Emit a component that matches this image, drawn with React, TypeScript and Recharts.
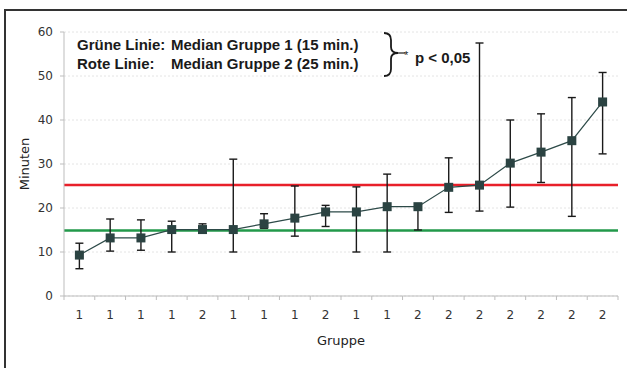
import { LineChart, Line, XAxis, YAxis, CartesianGrid, ErrorBar, ReferenceLine } from 'recharts';

const groups = ['1', '1', '1', '1', '2', '1', '1', '1', '2', '1', '1', '2', '2', '2', '2', '2', '2', '2'];
const medians = [9.3, 13.2, 13.2, 15.1, 15.1, 15.1, 16.4, 17.7, 19.1, 19.1, 20.3, 20.3, 24.7, 25.2, 30.2, 32.7, 35.3, 44.1];
const lows = [6.2, 10.2, 10.4, 10, 14.3, 10, 15.4, 13.6, 15.8, 10, 10, 15, 19.0, 19.3, 20.2, 25.8, 18.1, 32.3];
const highs = [12, 17.5, 17.3, 17, 16.4, 31.1, 18.7, 25, 20.6, 24.8, 27.7, 20.3, 31.4, 57.5, 40, 41.4, 45.1, 50.8];
const yTicks = [0, 10, 20, 30, 40, 50, 60];
const medianGroup1 = 14.9;
const medianGroup2 = 25.2;

const W = 627;
const H = 368;
const margin = { top: 32, right: 9, bottom: 16, left: 0 };
const yAxisWidth = 64;
const plotWidth = W - margin.left - margin.right - yAxisWidth;
const band = plotWidth / groups.length;

const data = groups.map((g, i) => ({
  gruppe: g,
  median: medians[i],
  err: [medians[i] - lows[i], highs[i] - medians[i]],
}));

const tickFont = { fontFamily: 'DejaVu Sans', fontSize: 12, fill: '#333' };

function GroupTick(props: any) {
  const { x, y, payload, index } = props;
  const last = index === groups.length - 1;
  return (
    <g>
      <line x1={x - band / 2} x2={x - band / 2} y1={y - 14} y2={y - 10} stroke="#bdbdbd" />
      {last && <line x1={x + band / 2} x2={x + band / 2} y1={y - 14} y2={y - 10} stroke="#bdbdbd" />}
      <text x={x} y={y} dy="0.71em" textAnchor="middle" {...tickFont}>
        {payload.value}
      </text>
    </g>
  );
}

function Square(props: any) {
  const { cx, cy, index } = props;
  if (cx == null || cy == null) return <g key={index} />;
  return <rect key={index} x={cx - 4.5} y={cy - 4.5} width={9} height={9} fill="#2b4342" />;
}

export default function App() {
  return (
    <div style={{ position: 'absolute', left: 0, top: 0, width: W, height: H, overflow: 'hidden', background: '#fff' }}>
      <div
        style={{
          position: 'absolute',
          left: 4,
          top: 9,
          width: 680,
          height: 420,
          border: '2px solid #333',
        }}
      />
      <div style={{ position: 'absolute', left: 0, top: 0 }}>
        <LineChart width={W} height={H} data={data} margin={margin}>
          <CartesianGrid vertical={false} stroke="#e4e4e4" strokeDasharray="2 2" />
          <XAxis
            dataKey="gruppe"
            padding={{ left: band / 2, right: band / 2 }}
            height={56}
            stroke="#bdbdbd"
            tickLine={false}
            tickSize={0}
            tickMargin={14}
            interval={0}
            tick={<GroupTick />}
            label={{ value: 'Gruppe', position: 'insideBottom', offset: 7, style: { fontFamily: 'DejaVu Sans', fontSize: 13, fill: '#222' } }}
          />
          <YAxis
            width={yAxisWidth}
            domain={[0, 60]}
            ticks={yTicks}
            stroke="#bdbdbd"
            tickSize={4}
            tickMargin={7}
            tick={tickFont}
            label={{
              value: 'Minuten',
              angle: -90,
              position: 'insideLeft',
              offset: 24,
              style: { textAnchor: 'middle', fontFamily: 'DejaVu Sans', fontSize: 13, fill: '#222' },
            }}
          />
          <ReferenceLine y={medianGroup2} stroke="#e8202a" strokeWidth={2.5} />
          <ReferenceLine y={medianGroup1} stroke="#22994a" strokeWidth={2.5} />
          <Line
            dataKey="median"
            stroke="#2d4a48"
            strokeWidth={1.2}
            dot={<Square />}
            activeDot={false}
            isAnimationActive={false}
          >
            <ErrorBar dataKey="err" direction="y" width={4} stroke="#1a1a1a" strokeWidth={1.4} />
          </Line>
        </LineChart>
      </div>
      <svg width={W} height={H} style={{ position: 'absolute', left: 0, top: 0 }}>
        <g fontFamily="Liberation Sans" fontWeight="bold" fontSize={15} fill="#1a1a1a">
          <text x={77} y={50}>Grüne Linie:</text>
          <text x={171} y={50}>Median Gruppe 1 (15 min.)</text>
          <text x={77} y={68.5}>Rote Linie:</text>
          <text x={171} y={68.5}>Median Gruppe 2 (25 min.)</text>
          <text x={415} y={62.5}>p &lt; 0,05</text>
        </g>
        <path
          d="M384,33 Q391,33 391,40 L391,47 Q391,53 398,53 Q391,53 391,59 L391,69 Q391,76 384,76"
          fill="none"
          stroke="#1a1a1a"
          strokeWidth={1.8}
        />
        <line x1={398} y1={53} x2={405} y2={53} stroke="#1a1a1a" strokeWidth={1.2} />
        <text x={404} y={59} fontFamily="Liberation Sans" fontSize={11} fill="#1a1a1a">*</text>
      </svg>
    </div>
  );
}
